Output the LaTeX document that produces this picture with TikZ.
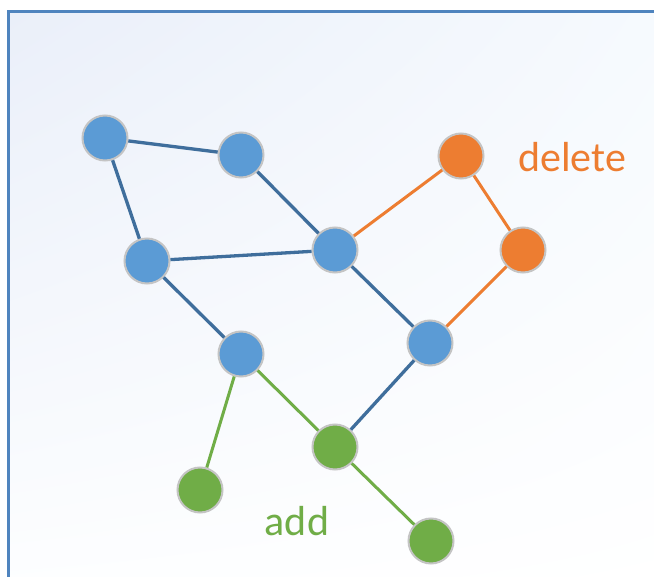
\documentclass[tikz,border=0pt]{standalone}
\usepackage{fontspec}
\setmainfont{Carlito}
\usetikzlibrary{shadings}
\definecolor{nodeblue}{HTML}{5B9BD5}
\definecolor{edgeblue}{HTML}{3F6E9C}
\definecolor{myorange}{HTML}{ED7D31}
\definecolor{mygreen}{HTML}{70AD47}
\definecolor{ringgray}{HTML}{C4C4C4}
\definecolor{framecol}{HTML}{4F84BE}
\definecolor{bgul}{HTML}{EAEFF9}
\definecolor{bgur}{HTML}{F6FAFE}
\definecolor{bgll}{HTML}{FDFEFF}
\begin{document}
\begin{tikzpicture}[x=1pt,y=-1pt,
  vert/.style={circle,draw=ringgray,line width=2pt,minimum size=45pt,inner sep=0pt},
  bv/.style={vert,fill=nodeblue},
  ov/.style={vert,fill=myorange},
  gv/.style={vert,fill=mygreen},
  be/.style={draw=edgeblue,line width=3.3pt},
  oe/.style={draw=myorange,line width=3pt},
  ge/.style={draw=mygreen,line width=3pt},
  lbl/.style={font=\fontsize{42}{42}\selectfont}]
\useasboundingbox (0,0) rectangle (654,577);
\fill[bgul] (8,12) rectangle (660,590);
\shade[upper left=bgul,upper right=bgur,lower left=bgll,lower right=white] (8,12) rectangle (660,590);
\draw[framecol,line width=3pt] (8,590) -- (8,12) -- (660,12);
% nodes
\node[bv] (A) at (105,138) {};
\node[bv] (B) at (241,155) {};
\node[bv] (C) at (147,261) {};
\node[bv] (D) at (335,250) {};
\node[ov] (E) at (461,156) {};
\node[ov] (F) at (523,250) {};
\node[bv] (G) at (241,354) {};
\node[bv] (H) at (430,343) {};
\node[gv] (I) at (335,447) {};
\node[gv] (J) at (200,490) {};
\node[gv] (K) at (431,541) {};
% edges
\path[be] (A) -- (B) (A) -- (C) (B) -- (D) (C) -- (D) (C) -- (G) (D) -- (H) (H) -- (I);
\path[oe] (D) -- (E) (E) -- (F) (F) -- (H);
\path[ge] (G) -- (J) (G) -- (I) (I) -- (K);
\node[lbl,text=myorange] (del) at (572,157) {delete};
\node[lbl,text=mygreen] (add) at (297,521) {add};
\end{tikzpicture}
\end{document}
